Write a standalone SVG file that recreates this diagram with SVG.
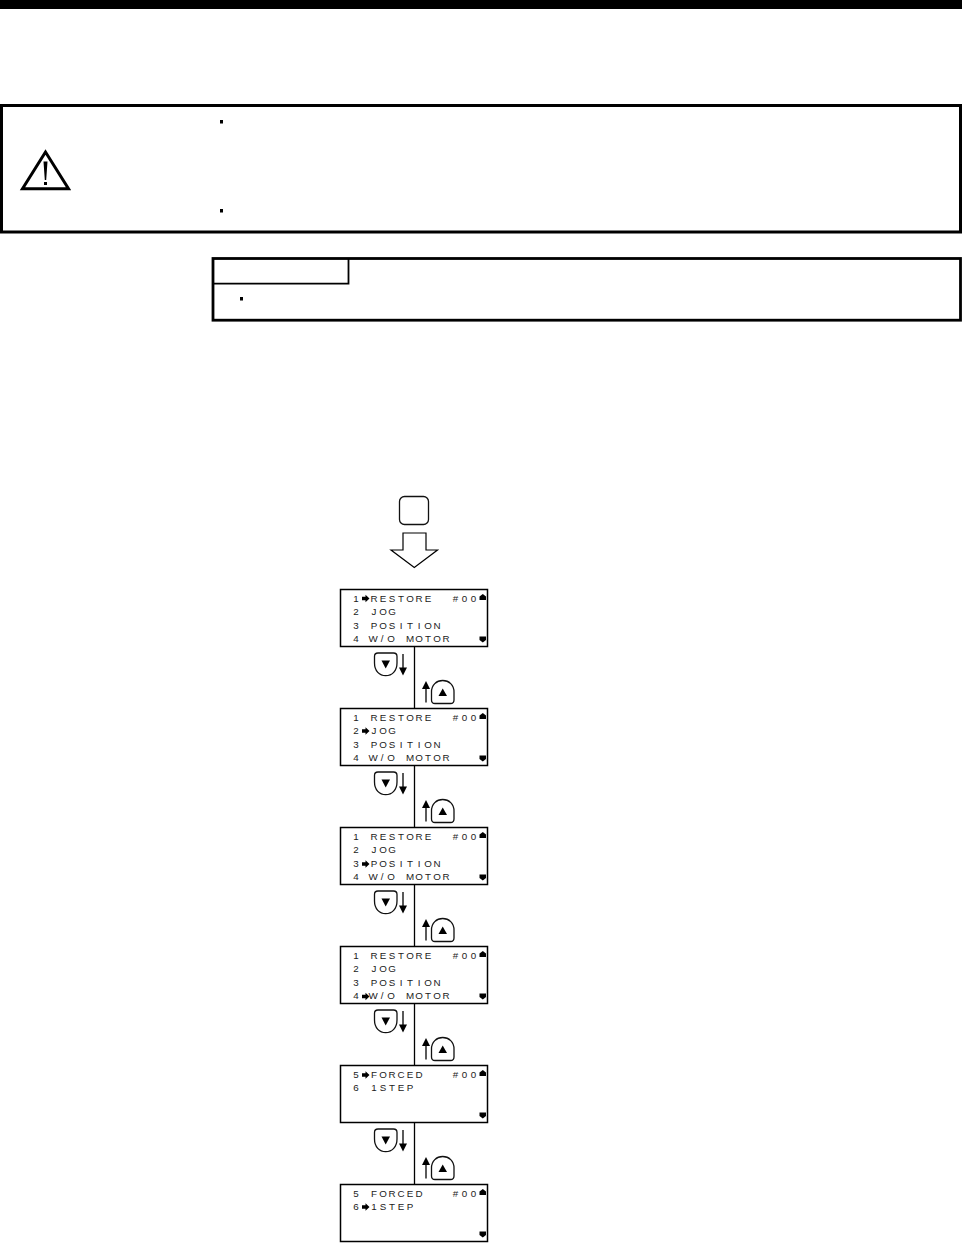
<svg xmlns="http://www.w3.org/2000/svg" width="962" height="1243" viewBox="0 0 962 1243">
<style>
.s{fill:#fff;stroke:#000;stroke-width:1.5}
.b{fill:#fff;stroke:#111;stroke-width:1.300}
.l{fill:none;stroke:#000;stroke-width:1.300}
.t{font-family:"Liberation Sans",Arial,sans-serif;font-size:9.800px;text-anchor:middle;fill:#222}
.k{fill:#000}
</style>
<defs>
<path id="ptr" class="k" d="M0-1.700H3.500V-3.800L7.500 0 3.500 3.800V1.700H0Z"/>
<g id="marks">
<path class="k" d="M479.500 600V596.500L482.800 594 486 596.500V600Z"/>
<path class="k" d="M479.500 636.500H486V640L482.800 642.500 479.500 640Z"/>
</g>
<g id="btnd"><path class="b" d="M378 653H393.500Q397 653 397 656.500V663C397 671 392 675.700 385.700 675.700C379.500 675.700 374.500 671 374.500 663V656.500Q374.500 653 378 653Z"/><path class="k" d="M381.500 660.500H390L385.700 668.500Z"/><path class="l" d="M403 654V670"/><path class="k" d="M399 667.500H407L403 675.500Z"/></g>
<g id="btnu"><path class="b" d="M435 703.500H450.500Q454 703.500 454 700V692C454 685 449 680.500 442.700 680.500C436.500 680.500 431.500 685 431.500 692V700Q431.500 703.500 435 703.500Z"/><path class="k" d="M438.500 696H447L442.700 688.500Z"/><path class="l" d="M426 686V702.500"/><path class="k" d="M422 689H430L426 681Z"/></g>
</defs>
<rect id="top-bar" x="0" y="0" width="962" height="9" fill="#000"/>
<g id="warning">
<rect x="1.500" y="105.500" width="959" height="126.500" fill="#fff" stroke="#000" stroke-width="3"/>
<path d="M45.500 152L22.500 188.800H68.500Z" fill="#fff" stroke="#000" stroke-width="3"/>
<path class="k" d="M43.500 161.500H47.500L46.200 180H44.800ZM44 182H47V185H44Z"/>
<rect class="k" x="220" y="120" width="3" height="3.500"/>
<rect class="k" x="220" y="209" width="3" height="3.500"/>
</g>
<g id="note">
<rect x="213" y="258.500" width="747.500" height="61.700" fill="#fff" stroke="#000" stroke-width="2.800"/>
<path d="M213 283.700H348.500V258" fill="none" stroke="#000" stroke-width="1.800"/>
<rect class="k" x="240" y="297" width="3" height="3.500"/>
</g>
<g id="start-key"><rect class="b" x="399.500" y="496.500" width="29" height="28" rx="5"/></g>
<path id="big-arrow" d="M403 533H426V550H437.500L414.300 567.500 391 550H403Z" fill="#fff" stroke="#000" stroke-width="1.200"/>
<g id="connectors">
<path class="l" d="M414.500 646V709M414.500 765V828M414.500 884V947M414.500 1003V1066M414.500 1122V1185"/>
<use href="#btnd"/><use href="#btnu"/>
<use href="#btnd" y="119"/><use href="#btnu" y="119"/>
<use href="#btnd" y="238"/><use href="#btnu" y="238"/>
<use href="#btnd" y="357"/><use href="#btnu" y="357"/>
<use href="#btnd" y="476"/><use href="#btnu" y="476"/>
</g>
<g id="screen-1"><rect class="s" x="340.500" y="589.500" width="147" height="57"/>
<text class="t" y="602" x="356">1</text><text class="t" y="602" x="374 383 392 401 410 419 428">RESTORE</text><text class="t" y="602" x="455.500 464.500 473.500">#00</text>
<text class="t" y="615" x="356">2</text><text class="t" y="615" x="374 383 392">JOG</text>
<text class="t" y="629" x="356">3</text><text class="t" y="629" x="374 383 392 401 410 419 428 437">POSITION</text>
<text class="t" y="642" x="356">4</text><text class="t" y="642" x="373 382 391 400 410 419 428 437 446">W/O MOTOR</text>
<use href="#ptr" x="362" y="598.500"/><use href="#marks"/></g>
<g id="screen-2"><rect class="s" x="340.500" y="708.500" width="147" height="57"/>
<text class="t" y="721" x="356">1</text><text class="t" y="721" x="374 383 392 401 410 419 428">RESTORE</text><text class="t" y="721" x="455.500 464.500 473.500">#00</text>
<text class="t" y="734" x="356">2</text><text class="t" y="734" x="374 383 392">JOG</text>
<text class="t" y="748" x="356">3</text><text class="t" y="748" x="374 383 392 401 410 419 428 437">POSITION</text>
<text class="t" y="761" x="356">4</text><text class="t" y="761" x="373 382 391 400 410 419 428 437 446">W/O MOTOR</text>
<use href="#ptr" x="362" y="731"/><use href="#marks" y="119"/></g>
<g id="screen-3"><rect class="s" x="340.500" y="827.500" width="147" height="57"/>
<text class="t" y="840" x="356">1</text><text class="t" y="840" x="374 383 392 401 410 419 428">RESTORE</text><text class="t" y="840" x="455.500 464.500 473.500">#00</text>
<text class="t" y="853" x="356">2</text><text class="t" y="853" x="374 383 392">JOG</text>
<text class="t" y="867" x="356">3</text><text class="t" y="867" x="374 383 392 401 410 419 428 437">POSITION</text>
<text class="t" y="880" x="356">4</text><text class="t" y="880" x="373 382 391 400 410 419 428 437 446">W/O MOTOR</text>
<use href="#ptr" x="362" y="864"/><use href="#marks" y="238"/></g>
<g id="screen-4"><rect class="s" x="340.500" y="946.500" width="147" height="57"/>
<text class="t" y="959" x="356">1</text><text class="t" y="959" x="374 383 392 401 410 419 428">RESTORE</text><text class="t" y="959" x="455.500 464.500 473.500">#00</text>
<text class="t" y="972" x="356">2</text><text class="t" y="972" x="374 383 392">JOG</text>
<text class="t" y="986" x="356">3</text><text class="t" y="986" x="374 383 392 401 410 419 428 437">POSITION</text>
<text class="t" y="999" x="356">4</text><text class="t" y="999" x="373 382 391 400 410 419 428 437 446">W/O MOTOR</text>
<use href="#ptr" x="362" y="996.500"/><use href="#marks" y="357"/></g>
<g id="screen-5"><rect class="s" x="340.500" y="1065.500" width="147" height="57"/>
<text class="t" y="1078" x="356">5</text><text class="t" y="1078" x="374 383 392 401 410 419">FORCED</text><text class="t" y="1078" x="455.500 464.500 473.500">#00</text>
<text class="t" y="1091" x="356">6</text><text class="t" y="1091" x="374 383 392 401 410">1STEP</text>
<use href="#ptr" x="362" y="1075"/><use href="#marks" y="476"/></g>
<g id="screen-6"><rect class="s" x="340.500" y="1184.500" width="147" height="57"/>
<text class="t" y="1197" x="356">5</text><text class="t" y="1197" x="374 383 392 401 410 419">FORCED</text><text class="t" y="1197" x="455.500 464.500 473.500">#00</text>
<text class="t" y="1210" x="356">6</text><text class="t" y="1210" x="374 383 392 401 410">1STEP</text>
<use href="#ptr" x="362" y="1207"/><use href="#marks" y="595"/></g>
</svg>
